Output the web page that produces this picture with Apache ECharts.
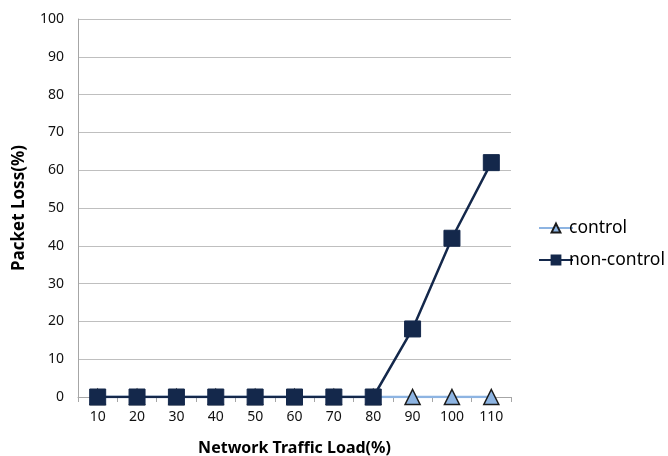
<!DOCTYPE html>
<html><head><meta charset="utf-8">
<script src="https://cdn.jsdelivr.net/npm/echarts@6/dist/echarts.min.js"></script>
<style>html,body{margin:0;padding:0;background:#fff}#c{width:668px;height:456px}</style>
</head><body><div id="c"></div>
<script>
var categories = ['10','20','30','40','50','60','70','80','90','100','110'];
var controlValues = [0,0,0,0,0,0,0,0,0,0,0];
var nonControlValues = [0,0,0,0,0,0,0,0,18,42,62];
var seriesNames = ['control','non-control'];
var yAxisName = 'Packet Loss(%)';
var xAxisName = 'Network Traffic Load(%)';

var font = '"Noto Sans", "Open Sans", sans-serif';
var chart = echarts.init(document.getElementById('c'));
chart.setOption({
  animation: false,
  backgroundColor: '#fff',
  textStyle: {fontFamily: font},
  grid: {left: 78, right: 157, top: 19, bottom: 59, containLabel: false, outerBoundsMode: 'none'},
  legend: {
    orient: 'vertical', left: 533, top: 214, itemGap: 14, itemWidth: 34, itemHeight: 11,
    textStyle: {fontFamily: font, fontSize: 17.5, color: '#000', padding: [0,0,0,-9]},
    data: seriesNames
  },
  xAxis: {
    type: 'category', data: categories, boundaryGap: true,
    name: xAxisName, nameLocation: 'middle', nameGap: 43,
    nameTextStyle: {fontFamily: font, fontSize: 16, fontWeight: 'bold', color: '#000'},
    axisLine: {lineStyle: {color: '#a6a6a6', width: 1}},
    axisTick: {show: true, alignWithLabel: false, length: 5, lineStyle: {color: '#a6a6a6'}},
    axisLabel: {fontFamily: font, fontSize: 14, color: '#111', margin: 13}
  },
  yAxis: {
    type: 'value', min: 0, max: 100, interval: 10,
    name: yAxisName, nameLocation: 'middle', nameGap: 50, nameRotate: 90,
    nameTextStyle: {fontFamily: font, fontSize: 17, fontWeight: 'bold', color: '#000'},
    axisLine: {show: true, lineStyle: {color: '#a6a6a6', width: 1}},
    axisTick: {show: false},
    axisLabel: {fontFamily: font, fontSize: 14, color: '#111', margin: 14},
    splitLine: {lineStyle: {color: '#bfbfbf', width: 1}}
  },
  series: [
    {
      name: seriesNames[0], type: 'line', data: controlValues,
      symbol: 'triangle', symbolSize: 15,
      lineStyle: {color: '#8db4e2', width: 2.5},
      itemStyle: {color: '#8db4e2', borderColor: '#1a1a1a', borderWidth: 1.5},
      z: 2
    },
    {
      name: seriesNames[1], type: 'line', data: nonControlValues,
      symbol: 'rect', symbolSize: 16,
      lineStyle: {color: '#14284b', width: 2.5},
      itemStyle: {color: '#14284b', borderColor: '#14284b', borderWidth: 1},
      z: 3
    }
  ]
});
</script></body></html>
